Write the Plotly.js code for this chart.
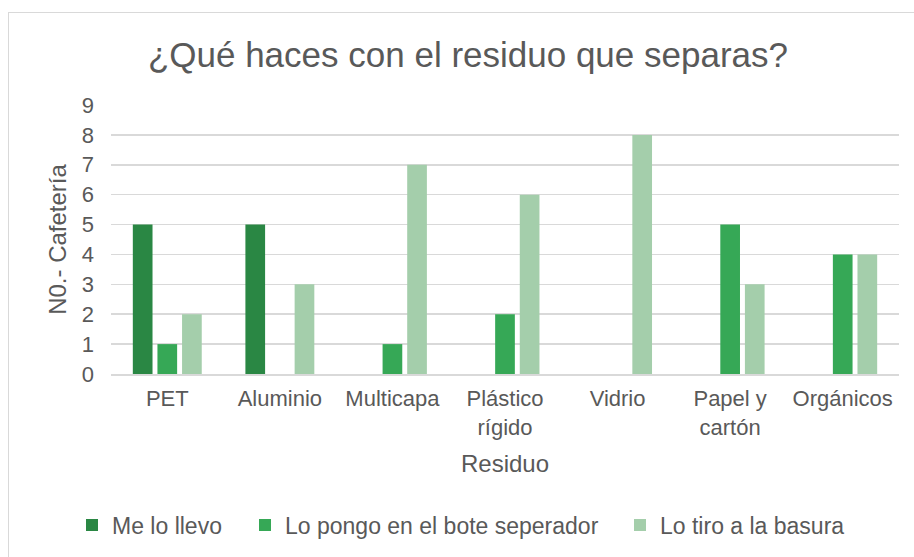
<!DOCTYPE html>
<html>
<head>
<meta charset="utf-8">
<script src="https://cdn.plot.ly/plotly-3.0.1.min.js"></script>
<style>
  body { margin: 0; background: #fff; }
  #wrap { position: relative; width: 914px; height: 557px; }
  #plot { width: 914px; height: 557px; }
  #frame {
    position: absolute; left: 8px; top: 12px; width: 920px; height: 560px;
    border: 1.5px solid #d9d9d9; pointer-events: none;
  }
</style>
</head>
<body>
<div id="wrap">
  <div id="plot"></div>
  <div id="frame"></div>
</div>
<script>
  var categories = ['PET', 'Aluminio', 'Multicapa', 'Plástico<br>rígido', 'Vidrio', 'Papel y<br>cartón', 'Orgánicos'];
  var meLoLlevo = [5, 5, 0, 0, 0, 0, 0];
  var loPongo = [1, 0, 1, 2, 0, 5, 4];
  var loTiro = [2, 3, 7, 6, 8, 3, 4];

  var font = 'Arial, "Liberation Sans", sans-serif';
  var grey = '#595959';

  var trace1 = {
    x: categories,
    y: meLoLlevo,
    type: 'bar',
    name: 'Me lo llevo',
    legend: 'legend',
    marker: { color: '#2a8744', line: { width: 0 } },
    hoverinfo: 'y'
  };
  var trace2 = {
    x: categories,
    y: loPongo,
    type: 'bar',
    name: 'Lo pongo en el bote seperador',
    legend: 'legend2',
    marker: { color: '#36a856', line: { width: 0 } },
    hoverinfo: 'y'
  };
  var trace3 = {
    x: categories,
    y: loTiro,
    type: 'bar',
    name: 'Lo tiro a la basura',
    legend: 'legend3',
    marker: { color: '#a4ceab', line: { width: 0 } },
    hoverinfo: 'y'
  };

  var data = [trace1, trace2, trace3];

  // one legend per series so each entry sits where Excel put it
  function legendAt(x) {
    return {
      orientation: 'h',
      xref: 'container', yref: 'container',
      x: x, xanchor: 'left',
      y: 0.0575, yanchor: 'middle',
      font: { size: 23, color: grey },
      itemwidth: 30,
      bgcolor: 'rgba(0,0,0,0)'
    };
  }

  var layout = {
    width: 914,
    height: 557,
    margin: { l: 111, r: 15, t: 105, b: 183 },
    paper_bgcolor: 'rgba(0,0,0,0)',
    plot_bgcolor: '#fff',
    font: { family: font, color: grey, size: 22 },
    title: {
      text: '¿Qué haces con el residuo que separas?',
      font: { family: font, size: 35, color: grey },
      x: 0.512, xref: 'container', xanchor: 'center',
      y: 0.902, yanchor: 'middle'
    },
    barmode: 'group',
    bargap: 0.344,
    bargroupgap: 0.2,
    xaxis: {
      type: 'category',
      showline: true,
      linecolor: '#d9d9d9',
      linewidth: 1.5,
      ticks: '',
      ticklabelstandoff: 4,
      tickfont: { size: 22, color: grey },
      title: { text: 'Residuo', font: { size: 24, color: grey }, standoff: 16 },
      fixedrange: true
    },
    yaxis: {
      range: [0, 9],
      dtick: 1,
      showgrid: true,
      gridcolor: '#d9d9d9',
      gridwidth: 1.5,
      zeroline: false,
      ticks: '',
      ticklabelstandoff: 16,
      tickfont: { size: 22, color: grey },
      title: { text: 'N0.- Cafetería', font: { size: 24, color: grey }, standoff: 8 },
      fixedrange: true
    },
    showlegend: true,
    legend: legendAt(72 / 914),
    legend2: legendAt(245 / 914),
    legend3: legendAt(620 / 914)
  };

  Plotly.newPlot('plot', data, layout, { displayModeBar: false, staticPlot: true });
</script>
</body>
</html>
